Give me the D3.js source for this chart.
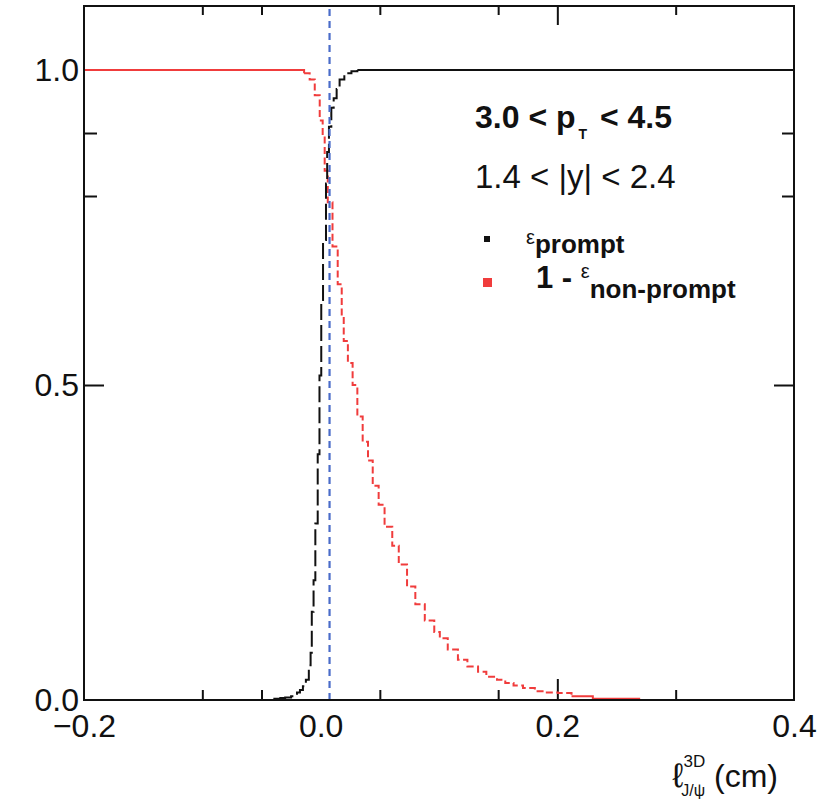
<!DOCTYPE html>
<meta charset="utf-8">
<style>
body { margin: 0; background-color: #fff; }
svg { display: block; font-family: "Liberation Sans", Arial, sans-serif; }
.frame { fill: none; stroke: #111; stroke-width: 2px; }
.ticks path { display: none; }
.ticks line { stroke: #111; stroke-width: 2px; }
.labels path, .labels line { display: none; }
.labels text { font-size: 32px; fill: #111; font-family: "Liberation Sans", Arial, sans-serif; }
</style>
<body>
<svg width="827" height="802"></svg>
<script src="https://cdn.jsdelivr.net/npm/d3@7"></script>
<script>

// epsilon_prompt: bin low edges and values (step histogram)
var promptX   = [-0.040, -0.035, -0.030, -0.025, -0.0225, -0.020, -0.0175, -0.015, -0.0125, -0.010,
                 -0.0085, -0.0075, -0.006, -0.0045, -0.0025, -0.001, 0.0005, 0.002, 0.0045, 0.0055,
                 0.007, 0.009, 0.011, 0.0135, 0.016, 0.020, 0.026, 0.031, 0.400];
var promptEff = [0.002, 0.003, 0.004, 0.006, 0.008, 0.012, 0.016, 0.022, 0.032, 0.055,
                 0.075, 0.14, 0.19, 0.28, 0.39, 0.515, 0.635, 0.73, 0.82, 0.87,
                 0.91, 0.94, 0.955, 0.97, 0.985, 0.995, 0.998, 1.0, 1.0];

// 1 - epsilon_non-prompt
var nonPromptX   = [-0.200, -0.014, -0.0093, -0.005, -0.0008, 0.0017, 0.0034, 0.006, 0.010, 0.0144,
                    0.0178, 0.0195, 0.023, 0.027, 0.031, 0.0355, 0.040, 0.044, 0.049, 0.054,
                    0.0605, 0.066, 0.073, 0.080, 0.088, 0.096, 0.1007, 0.1074, 0.116, 0.124,
                    0.133, 0.140, 0.149, 0.156, 0.163, 0.171, 0.181, 0.190, 0.2005, 0.212,
                    0.230, 0.270];
var nonPromptEff = [1.0, 0.995, 0.985, 0.96, 0.92, 0.895, 0.84, 0.79, 0.72, 0.66,
                    0.61, 0.57, 0.535, 0.50, 0.45, 0.41, 0.38, 0.34, 0.31, 0.275,
                    0.245, 0.215, 0.18, 0.152, 0.126, 0.108, 0.098, 0.08, 0.064, 0.053,
                    0.045, 0.037, 0.032, 0.027, 0.023, 0.019, 0.014, 0.012, 0.011, 0.006,
                    0.002, 0.002];

var cutValue = 0.0075;   // blue dashed line

var xDomain = [-0.2, 0.4], yDomain = [0, 1.1016];
var xLabelTicks = [-0.2, 0.0, 0.2, 0.4];
var xMajorTicks = [0.2];
var xMinorTicks = [-0.1, -0.05, 0.05, 0.15, 0.3];
var yLabelTicks = [0.0, 0.5, 1.0];
var yMajorTicks = [0.5];
var yMinorTicks = [0.8, 0.9];

var margin = {top: 6, right: 33, bottom: 102, left: 84},
    width = 827 - margin.left - margin.right,
    height = 802 - margin.top - margin.bottom;

var x = d3.scaleLinear().domain(xDomain).range([0, width]);
var y = d3.scaleLinear().domain(yDomain).range([height, 0]);

var svg = d3.select("svg");
svg.append("rect").attr("width", 827).attr("height", 802).attr("fill", "#fff");

var g = svg.append("g")
  .attr("transform", "translate(" + margin.left + "," + margin.top + ")");

g.append("defs").append("clipPath").attr("id", "clip")
  .append("rect").attr("width", width).attr("height", height);

// ticks (inward), bottom / top / left / right
function tickAxis(axisFn, scale, vals, len, tx, ty) {
  g.append("g")
    .attr("class", "ticks")
    .attr("transform", "translate(" + tx + "," + ty + ")")
    .call(axisFn(scale).tickValues(vals).tickSize(-len).tickFormat(""));
}
tickAxis(d3.axisBottom, x, xMinorTicks, 10, 0, height);
tickAxis(d3.axisBottom, x, xMajorTicks, 21, 0, height);
tickAxis(d3.axisTop, x, xMinorTicks, 9, 0, 0);
tickAxis(d3.axisTop, x, xMajorTicks, 19, 0, 0);
tickAxis(d3.axisLeft, y, yMinorTicks, 13, 0, 0);
tickAxis(d3.axisLeft, y, yMajorTicks, 20, 0, 0);
tickAxis(d3.axisRight, y, yMinorTicks, 12, width, 0);
tickAxis(d3.axisRight, y, yMajorTicks, 20, width, 0);

// labels
g.append("g")
  .attr("class", "labels")
  .attr("transform", "translate(0," + height + ")")
  .call(d3.axisBottom(x).tickValues(xLabelTicks).tickSize(0).tickPadding(14).tickFormat(d3.format(".1f")));

g.append("g")
  .attr("class", "labels")
  .call(d3.axisLeft(y).tickValues(yLabelTicks).tickSize(0).tickPadding(5).tickFormat(d3.format(".1f")));

// curves
var stepLine = d3.line()
  .x(function(d) { return x(d[0]); })
  .y(function(d) { return y(d[1]); })
  .curve(d3.curveStepAfter);

function drawSeries(xs, ys, color, headEnd, tailStart, dash) {
  var pts = xs.map(function(v, i) { return [v, ys[i]]; });
  var pieces = [
    {d: pts.slice(0, headEnd + 1), dash: null},
    {d: pts.slice(headEnd, tailStart + 1), dash: dash},
    {d: pts.slice(tailStart), dash: null}
  ];
  pieces.forEach(function(p) {
    if (p.d.length < 2) return;
    g.append("path")
      .datum(p.d)
      .attr("d", stepLine)
      .attr("fill", "none")
      .attr("stroke", color)
      .attr("stroke-width", 2)
      .attr("stroke-dasharray", p.dash)
      .attr("clip-path", "url(#clip)");
  });
}

drawSeries(nonPromptX, nonPromptEff, "#f03c3c", 1, nonPromptX.length - 3, "7,3.5");
drawSeries(promptX, promptEff, "#111", 1, promptX.length - 2, "16,5");

// blue cut line
g.append("line")
  .attr("x1", x(cutValue)).attr("x2", x(cutValue))
  .attr("y1", height).attr("y2", 0)
  .attr("stroke", "#4a6cc9")
  .attr("stroke-width", 2.2)
  .attr("stroke-dasharray", "7,5");

// frame
g.append("rect")
  .attr("class", "frame")
  .attr("width", width)
  .attr("height", height);

// annotations
var t1 = svg.append("text")
  .attr("x", 475).attr("y", 128)
  .style("font-size", "32px").style("font-weight", "bold").attr("fill", "#111");
t1.append("tspan").text("3.0 < p");
t1.append("tspan").attr("dy", 11).attr("dx", 3).style("font-size", "14px").text("T");
t1.append("tspan").attr("dy", -11).attr("dx", 4).text(" < 4.5");

svg.append("text")
  .attr("x", 475).attr("y", 188)
  .style("font-size", "33px").attr("fill", "#111")
  .text("1.4 < |y| < 2.4");

// legend
svg.append("rect").attr("x", 484).attr("y", 236).attr("width", 6).attr("height", 6).attr("fill", "#111");
svg.append("rect").attr("x", 483).attr("y", 278).attr("width", 9).attr("height", 9).attr("fill", "#f03c3c");

var l1 = svg.append("text").attr("x", 526).attr("y", 244).attr("fill", "#111");
l1.append("tspan").style("font-size", "20px").text("ε");
l1.append("tspan").attr("dy", 9).style("font-size", "26px").style("font-weight", "bold").text("prompt");

var l2 = svg.append("text").attr("x", 536).attr("y", 288).attr("fill", "#111");
l2.append("tspan").style("font-size", "31px").style("font-weight", "bold").text("1 - ");
l2.append("tspan").style("font-size", "20px").attr("dy", -10).text("ε");
l2.append("tspan").attr("dy", 20).style("font-size", "26px").style("font-weight", "bold").text("non-prompt");

// x axis title
var xt = svg.append("text").attr("x", 778).attr("y", 787).attr("text-anchor", "end").attr("fill", "#111");
xt.append("tspan").style("font-size", "34px").text("ℓ");
xt.append("tspan").attr("dy", -20).style("font-size", "17px").text("3D");
xt.append("tspan").attr("dx", -24).attr("dy", 29).style("font-size", "16px").text("J/ψ");
xt.append("tspan").attr("dy", -9).style("font-size", "32px").text(" (cm)");

</script>
</body>
